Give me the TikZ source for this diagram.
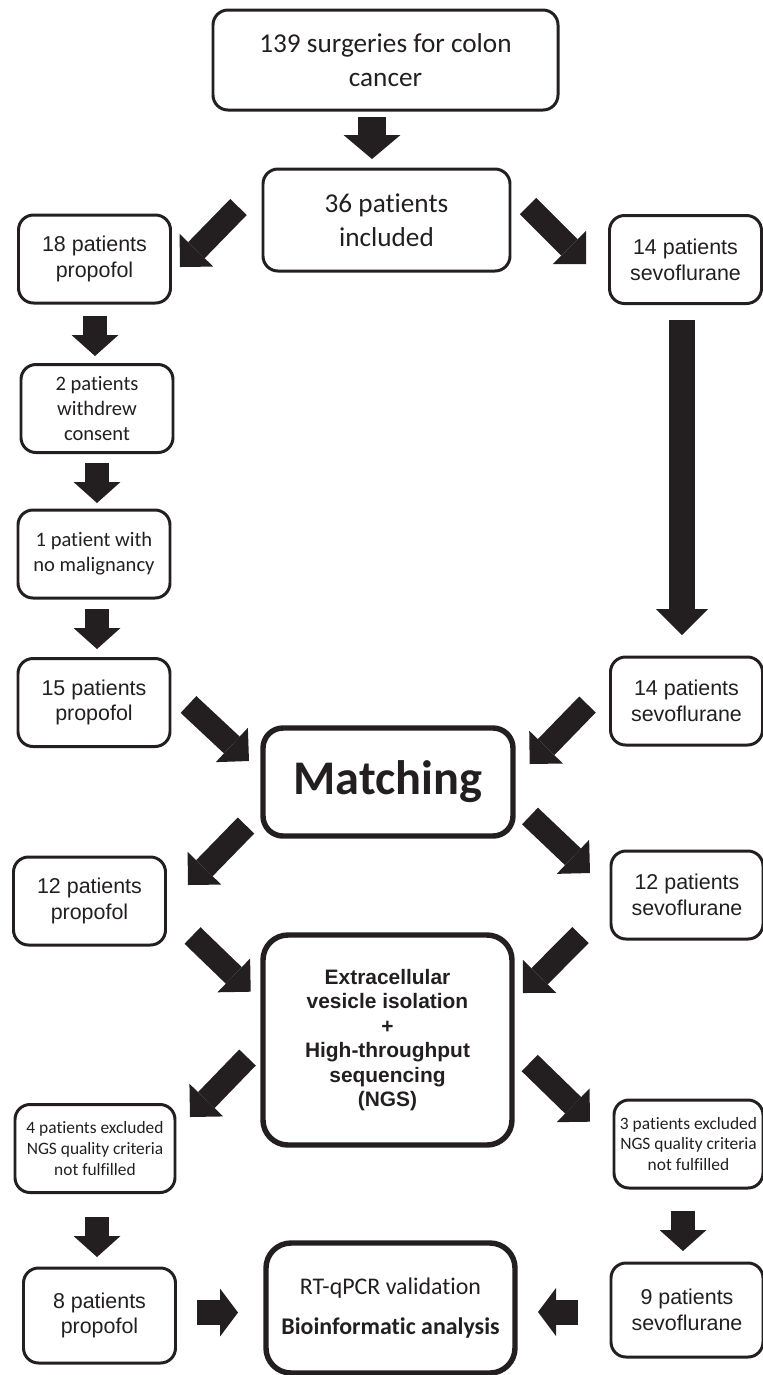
\documentclass[tikz,border=0pt]{standalone}
\usepackage{fontspec}
\setmainfont[Ligatures=NoCommon]{Carlito}
\newfontfamily\arialfam{Liberation Sans}
\usepackage{tikz}
\usetikzlibrary{arrows.meta}
\definecolor{ink}{RGB}{35,31,32}

\begin{document}
\begin{tikzpicture}[x=0.2mm, y=-0.2mm]
\tikzset{
    box/.style={draw=ink, text=ink, line width=1.7pt, rounded corners=3mm,
        align=center, inner sep=0pt, minimum width=30.4mm, minimum height=17.6mm},
    bigbox/.style={box, line width=3.1pt, rounded corners=4mm},
    cal/.style={font=\fontsize{15.5}{19.3}\selectfont},
    calsm/.style={font=\fontsize{11.7}{14.2}\selectfont},
    caltiny/.style={font=\fontsize{9.9}{11.9}\selectfont},
    ari/.style={font=\arialfam\fontsize{12.2}{14.7}\selectfont},
    fat/.style={draw=ink, line width=4.8mm, -{Triangle[width=9.4mm, length=4.2mm, line width=0pt]}},
    fatdiag/.style={fat, line width=4.6mm, -{Triangle[width=9.4mm, length=4.7mm, line width=0pt]}},
    fatside/.style={fat, line width=5mm, -{Triangle[width=9.6mm, length=3.6mm, line width=0pt]}}
}
\useasboundingbox (0,0) rectangle (763,1375);

% Boxes
\node[box, cal, minimum width=69mm, minimum height=20mm] (surg) at (385.5,60) {139 surgeries for colon\\cancer};
\node[box, cal, minimum width=49.4mm, minimum height=20.4mm] (incl) at (386.5,220) {36 patients\\included};
\node[box, ari] (propA) at (94.5,259) {18 patients\\propofol};
\node[box, ari] (sevoA) at (685.5,259.5) {14 patients\\sevoflurane};
\node[box, calsm] (withdr) at (97,408.5) {2 patients\\withdrew\\consent};
\node[box, calsm] (nomal) at (94,554) {1 patient with\\no malignancy};
\node[box, ari] (propB) at (94,702.5) {15 patients\\propofol};
\node[box, ari] (sevoB) at (686.5,701) {14 patients\\sevoflurane};
\node[bigbox, minimum width=50mm, minimum height=21.6mm, font=\bfseries\fontsize{27.5}{31}\selectfont] (match) at (388,782) {Matching};
\node[box, ari] (propC) at (89.5,901) {12 patients\\propofol};
\node[box, ari] (sevoC) at (687,895) {12 patients\\sevoflurane};
\node[bigbox, minimum width=49.8mm, minimum height=42mm, rounded corners=5mm, font=\arialfam\bfseries\fontsize{11.9}{13.9}\selectfont] (ngs) at (387.5,1040)
    {Extracellular\\vesicle isolation\\+\\High-throughput\\sequencing\\(NGS)};
\node[box, caltiny, minimum width=32mm] (exclP) at (95,1148.5) {4 patients excluded\\NGS quality criteria\\not fulfilled};
\node[box, caltiny, minimum width=29.8mm] (exclS) at (688.5,1144) {3 patients excluded\\NGS quality criteria\\not fulfilled};
\node[box, ari, minimum height=19mm] (propD) at (99.5,1315.5) {8 patients\\propofol};
\node[bigbox, minimum width=49.8mm, minimum height=26mm, rounded corners=5mm, font=\fontsize{13.6}{16.3}\selectfont] (rtq) at (390.5,1308)
    {RT-qPCR validation\\[6pt]\textbf{Bioinformatic analysis}};
\node[box, ari, minimum height=18.8mm] (sevoD) at (687,1310) {9 patients\\sevoflurane};

% Arrow ends
\coordinate (s1) at (372,117);   \coordinate (e1) at (372,159);
\coordinate (s2) at (238.5,207); \coordinate (e2) at (180,267);
\coordinate (s3) at (528,206);   \coordinate (e3) at (586,264);
\coordinate (s4) at (95,316);    \coordinate (e4) at (95,356);
\coordinate (s5) at (97,463);    \coordinate (e5) at (97,503);
\coordinate (s6) at (97,609);    \coordinate (e6) at (97,649);
\coordinate (s7) at (682,320);   \coordinate (e7) at (682,635);
\coordinate (s8) at (188.5,704.5); \coordinate (e8) at (249,761);
\coordinate (s9) at (587.5,704.5); \coordinate (e9) at (529.7,764);
\coordinate (s10) at (246,825.5);  \coordinate (e10) at (188,885);
\coordinate (s11) at (530,816);    \coordinate (e11) at (590,873);
\coordinate (s12) at (192.5,935.5); \coordinate (e12) at (250.7,991.7);
\coordinate (s13) at (580.5,935);   \coordinate (e13) at (523,993);
\coordinate (s14) at (247.5,1057.5); \coordinate (e14) at (190,1117);
\coordinate (s15) at (529.7,1063);   \coordinate (e15) at (590,1121.7);
\coordinate (s16) at (97,1217);  \coordinate (e16) at (97,1257);
\coordinate (s17) at (683,1211); \coordinate (e17) at (683,1251);
\coordinate (s18) at (197,1312.5); \coordinate (e18) at (238,1312.5);
\coordinate (s19) at (578,1312);   \coordinate (e19) at (538,1312);

% Arrows
\draw[fat, line width=5.6mm, -{Triangle[width=11.4mm, length=4.8mm, line width=0pt]}] (s1) -- (e1);
\draw[fatdiag] (s2) -- (e2);
\draw[fatdiag] (s3) -- (e3);
\draw[fat] (s4) -- (e4);
\draw[fat] (s5) -- (e5);
\draw[fat] (s6) -- (e6);
\draw[fat, line width=5.2mm, -{Triangle[width=10.4mm, length=5.2mm, line width=0pt]}] (s7) -- (e7);
\draw[fatdiag] (s8) -- (e8);
\draw[fatdiag] (s9) -- (e9);
\draw[fatdiag] (s10) -- (e10);
\draw[fatdiag] (s11) -- (e11);
\draw[fatdiag] (s12) -- (e12);
\draw[fatdiag] (s13) -- (e13);
\draw[fatdiag] (s14) -- (e14);
\draw[fatdiag] (s15) -- (e15);
\draw[fat] (s16) -- (e16);
\draw[fat] (s17) -- (e17);
\draw[fatside] (s18) -- (e18);
\draw[fatside] (s19) -- (e19);

\end{tikzpicture}
\end{document}
